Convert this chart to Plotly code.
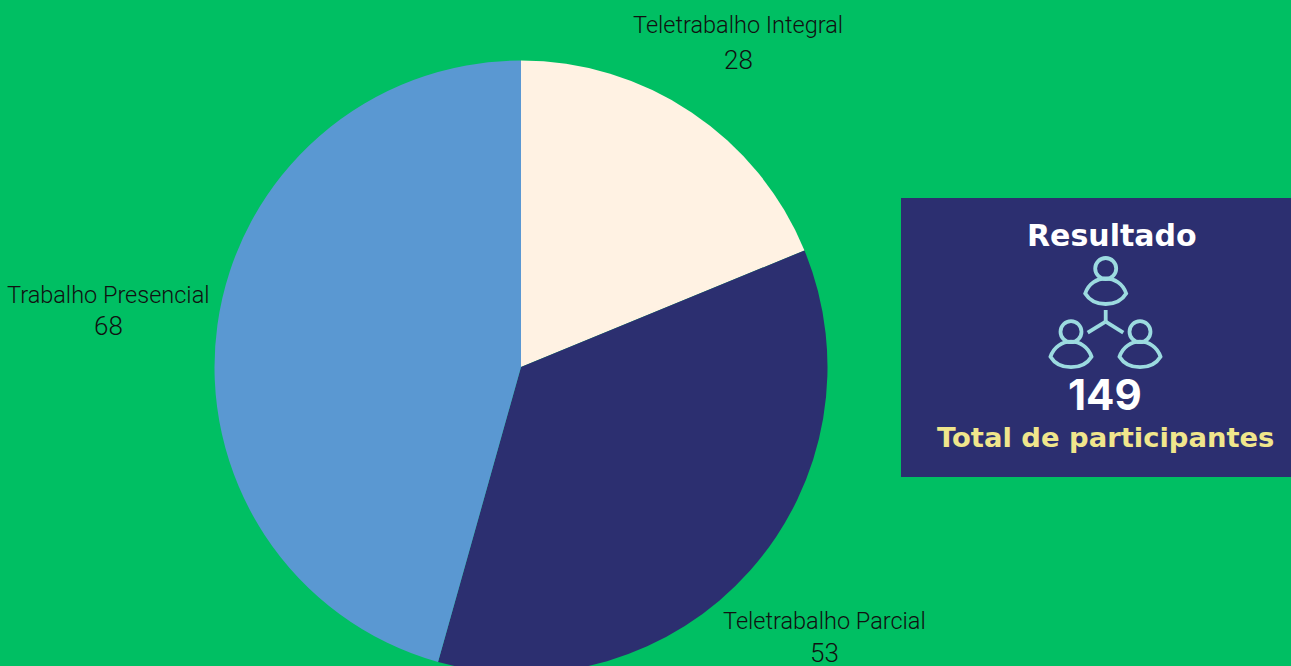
import plotly.graph_objects as go

W, H = 1291, 680  # the pie runs past the bottom of the window, so the page is a bit taller

labels = ["Teletrabalho Integral", "Teletrabalho Parcial", "Trabalho Presencial"]
values = [28, 53, 68]
slice_colors = ["#FFF2E3", "#2C2F70", "#5A98D2"]

BG = "#00BF63"
NAVY = "#2C2F70"
ICON = "#9CDBE0"
YELLOW = "#F0E68C"
LABEL_FONT = "Roboto Light, Roboto, sans-serif"
PANEL_FONT = "DejaVu Sans, sans-serif"
NUMBER_FONT = "Inter, sans-serif"


def px(x):
    return x / W


def py(y):
    return 1 - y / H


def person(cx, cy):
    """Head circle and eye-shaped body, cx/cy is the head centre in pixels."""
    r = 10.5
    head = dict(
        type="circle", xref="paper", yref="paper",
        x0=px(cx - r), x1=px(cx + r), y0=py(cy - r), y1=py(cy + r),
        line=dict(color=ICON, width=3.8),
    )
    left, right, tip = px(cx - 20.5), px(cx + 20.5), py(cy + 25)
    d = (
        f"M {left} {tip} C {px(cx - 14)} {py(cy + 5)} {px(cx + 14)} {py(cy + 5)} {right} {tip} "
        f"C {px(cx + 12)} {py(cy + 39)} {px(cx - 12)} {py(cy + 39)} {left} {tip} Z"
    )
    body = dict(type="path", xref="paper", yref="paper", path=d, line=dict(color=ICON, width=3.8))
    return [head, body]


def stroke(x0, y0, x1, y1):
    return dict(
        type="line", xref="paper", yref="paper",
        x0=px(x0), y0=py(y0), x1=px(x1), y1=py(y1),
        line=dict(color=ICON, width=3.8),
    )


def text_at(x, y, text, size, color="#111111", family=LABEL_FONT, bold=False):
    return dict(
        x=px(x), y=py(y), xref="paper", yref="paper",
        text=f"<b>{text}</b>" if bold else text,
        showarrow=False, xanchor="center", yanchor="middle",
        font=dict(size=size, color=color, family=family),
    )


fig = go.Figure(
    go.Pie(
        labels=labels,
        values=values,
        sort=False,
        direction="clockwise",
        rotation=0,
        textinfo="none",
        marker=dict(colors=slice_colors, line=dict(width=0)),
        domain=dict(x=[px(214.5), px(827.5)], y=[py(673.5), py(60.5)]),
        showlegend=False,
    )
)

shapes = [
    dict(
        type="rect", xref="paper", yref="paper",
        x0=px(901), x1=1, y0=py(477), y1=py(198),
        fillcolor=NAVY, line=dict(width=0),
    ),
    stroke(1105.7, 310, 1105.7, 321.7),
    stroke(1105.7, 321.7, 1087.7, 332.7),
    stroke(1105.7, 321.7, 1123.3, 332.7),
]
shapes += person(1105.7, 268.5) + person(1071, 331.7) + person(1140, 331.7)

annotations = [
    text_at(738, 25, labels[0], 23.5),
    text_at(738, 60, str(values[0]), 26),
    text_at(824, 621, labels[1], 23.5),
    text_at(824, 653, str(values[1]), 26),
    text_at(108, 295, labels[2], 23.5),
    text_at(108, 326, str(values[2]), 26),
    text_at(1112, 235, "Resultado", 30, "#FFFFFF", PANEL_FONT, True),
    text_at(1104.5, 394, str(sum(values)), 42, "#FFFFFF", NUMBER_FONT, True),
    text_at(1105, 437, "Total de participantes", 27.4, YELLOW, PANEL_FONT, True),
]

fig.update_layout(
    width=W,
    height=H,
    margin=dict(l=0, r=0, t=0, b=0),
    paper_bgcolor=BG,
    plot_bgcolor=BG,
    shapes=shapes,
    annotations=annotations,
)

fig.write_html(
    "out.html",
    config=dict(displayModeBar=False),
    post_script="document.body.style.margin='0';document.body.style.overflow='hidden';",
)
